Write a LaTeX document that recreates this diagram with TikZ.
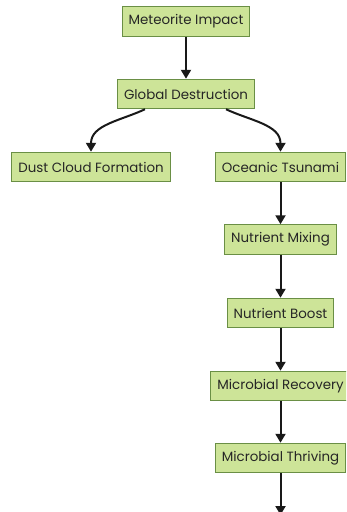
\documentclass[tikz,border=0pt]{standalone}
\usepackage{fontspec}
\setmainfont{Poppins}
\usetikzlibrary{arrows.meta}
\definecolor{boxfill}{HTML}{CDE498}
\definecolor{boxline}{HTML}{6A8F45}
\begin{document}
\begin{tikzpicture}[x=1pt,y=-1pt]
        \tikzset{stepbox/.style={draw=boxline, fill=boxfill, line width=1pt, inner xsep=6.5pt, inner ysep=0pt, minimum height=29.5pt, text=black!85, font=\fontsize{13.4}{15}\selectfont},
                 flow/.style={line width=2pt, black!90, -{Triangle[width=10pt,length=9pt]}}}
        \clip (0,0) rectangle (346,512);
        \useasboundingbox (0,0) rectangle (346,512);
        \node [stepbox] (impact) at (186,21.5) {Meteorite Impact};
        \node [stepbox] (destr) at (186,94) {Global Destruction};
        \node [stepbox] (dust) at (91,167) {Dust Cloud Formation};
        \node [stepbox] (tsunami) at (280.5,167) {Oceanic Tsunami};
        \node [stepbox] (mixing) at (280.5,239.5) {Nutrient Mixing};
        \node [stepbox] (boost) at (280.5,313) {Nutrient Boost};
        \node [stepbox] (recov) at (280.5,386) {Microbial Recovery};
        \node [stepbox] (thriv) at (280.5,458) {Microbial Thriving};
        \coordinate (next) at (280.5,515);
        \draw [flow] (impact) -- (destr);
        \draw [flow] ([xshift=-41pt]destr.south) to [out=-155,in=90] (dust.north);
        \draw [flow] ([xshift=40pt]destr.south) to [out=-25,in=90] (tsunami.north);
        \draw [flow] (tsunami) -- (mixing);
        \draw [flow] (mixing) -- (boost);
        \draw [flow] (boost) -- (recov);
        \draw [flow] (recov) -- (thriv);
        \draw [flow] (thriv) -- (next);
\end{tikzpicture}
\end{document}
